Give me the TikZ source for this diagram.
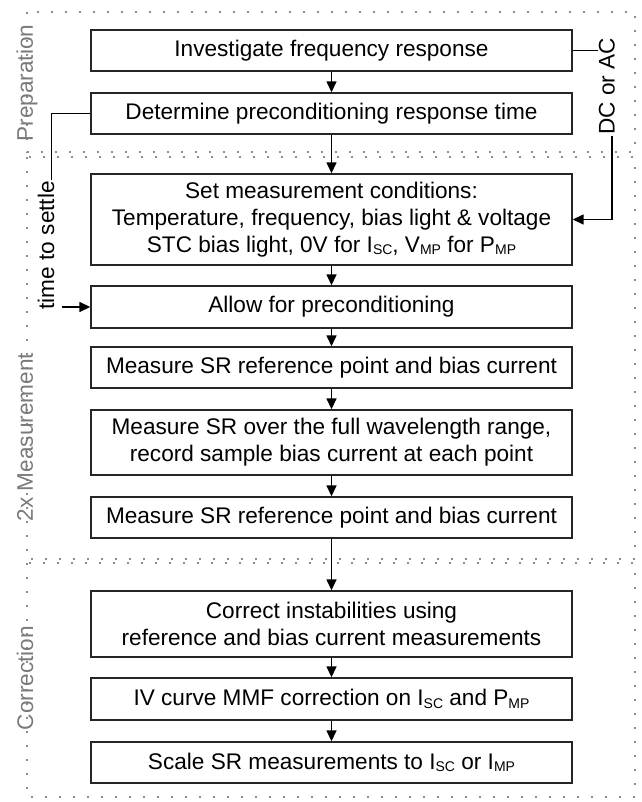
\documentclass[tikz,border=0pt]{standalone}
\usepackage{fontspec}
\setmainfont{Liberation Sans}
\usetikzlibrary{arrows.meta}
\newcommand{\mysub}[1]{\raisebox{-2.5pt}{\fontsize{14}{14}\selectfont #1}}
\begin{document}
\begin{tikzpicture}[x=1pt,y=-1pt,
  box/.style={draw=black!85, line width=1.4pt, minimum width=481pt, inner sep=2pt, align=center, font=\fontsize{22.6}{27}\selectfont},
  conn/.style={line width=1.5pt, black},
  arr/.style={conn, -{Triangle[length=11pt,width=10pt]}},
  frame/.style={draw=black!45, line width=2pt, dash pattern=on 2pt off 12pt},
  sect/.style={rotate=90, text=black!52, inner sep=1pt, font=\fontsize{22.6}{26}\selectfont},
  lab/.style={rotate=90, inner sep=1pt, font=\fontsize{22.6}{26}\selectfont}]
\useasboundingbox (0,0) rectangle (641,802);
% section frames
\draw[frame] (27,12) rectangle (635,152);
\draw[frame] (27,157) rectangle (635,559);
\draw[frame] (27,563) rectangle (635,797);
% section labels
\node[sect] (s1) at (27,83) {Preparation};
\node[sect] (s2) at (25,437) {2x Measurement};
\node[sect] (s3) at (25,678) {Correction};
% boxes
\node[box, minimum height=41pt] (b1) at (331.5,50.5) {Investigate frequency response};
\node[box, minimum height=41pt] (b2) at (331.5,113.5) {Determine preconditioning response time};
\node[box, minimum height=91pt] (b3) at (331.5,219.5) {Set measurement conditions:\\Temperature, frequency, bias light \& voltage\\STC bias light, 0V for I\mysub{SC}, V\mysub{MP} for P\mysub{MP}};
\node[box, minimum height=42pt] (b4) at (331.5,307) {Allow for preconditioning};
\node[box, minimum height=41pt] (b5) at (331.5,367.5) {Measure SR reference point and bias current};
\node[box, minimum height=65pt] (b6) at (331.5,442.5) {Measure SR over the full wavelength range,\\record sample bias current at each point};
\node[box, minimum height=41pt] (b7) at (331.5,517.5) {Measure SR reference point and bias current};
\node[box, minimum height=66pt] (b8) at (331.5,624) {Correct instabilities using\\reference and bias current measurements};
\node[box, minimum height=42pt] (b9) at (331.5,699) {IV curve MMF correction on I\mysub{SC} and P\mysub{MP}};
\node[box, minimum height=41pt] (b10) at (331.5,762.5) {Scale SR measurements to I\mysub{SC} or I\mysub{MP}};
% main flow
\draw[arr] (b1.south) -- (b2.north);
\draw[arr] (b2.south) -- (b3.north);
\draw[arr] (b3.south) -- (b4.north);
\draw[arr] (b4.south) -- (b5.north);
\draw[arr] (b5.south) -- (b6.north);
\draw[arr] (b6.south) -- (b7.north);
\draw[arr] (b7.south) -- (b8.north);
\draw[arr] (b8.south) -- (b9.north);
\draw[arr] (b9.south) -- (b10.north);
% DC or AC
\node[lab, anchor=mid east] (dc) at (612,37) {DC or AC};
\draw[conn] (b1.east) -- (b1.east -| dc.north);
\draw[arr] (dc.mid west) |- (b3.east);
% time to settle
\node[lab, anchor=mid east] (tts) at (51.5,180) {time to settle};
\draw[conn] (b2.west) -| (tts.mid east);
\coordinate (tt) at (62,307);
\draw[arr] (tt) -- (b4.west);
\end{tikzpicture}
\end{document}
